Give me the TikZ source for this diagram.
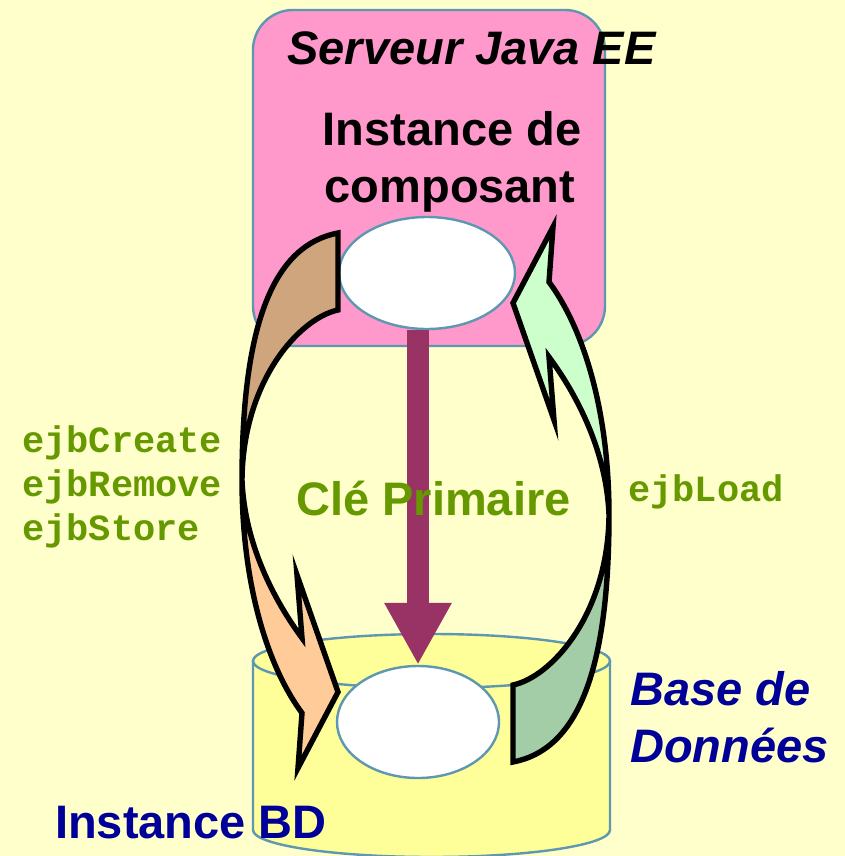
\documentclass[tikz,border=0pt]{standalone}
\usepackage{fontspec}
\setmainfont{Liberation Sans}
\setmonofont{Liberation Mono}
\usetikzlibrary{shapes.geometric,arrows.meta}

\definecolor{bgyellow}{HTML}{FFFFCC}
\definecolor{serverpink}{HTML}{FF99CC}
\definecolor{edgeblue}{HTML}{5E97B0}
\definecolor{dbyellow}{HTML}{FFFF99}
\definecolor{keypurple}{HTML}{993366}
\definecolor{labelgreen}{HTML}{669900}
\definecolor{dbblue}{HTML}{000099}
\definecolor{tanback}{HTML}{CFA57D}
\definecolor{peachfront}{HTML}{FFCC99}
\definecolor{mintfront}{HTML}{CCFFCC}
\definecolor{sageback}{HTML}{A3CDA6}

% Curved block arrow: tail at the top right, bulging left, head at the bottom.
% #1 = colour of the tail half, #2 = colour of the head half.
\newcommand\bendarrow[2]{%
  \fill[#1] (338,233) .. controls (275,245) and (242,320) .. (242,480)
     .. controls (243,380) and (300,318) .. (338,310) -- cycle;
  \fill[#2] (242,480) .. controls (242,590) and (270,670) .. (302,713)
     -- (298,768) -- (338,692) -- (297,575) -- (302,638)
     .. controls (285,615) and (245,555) .. (242,480) -- cycle;
  \draw[bendline] (338,233) .. controls (275,245) and (242,320) .. (242,480)
     .. controls (242,590) and (270,670) .. (302,713)
     -- (298,768) -- (338,692) -- (297,575) -- (302,638)
     .. controls (285,615) and (245,555) .. (242,480)
     .. controls (243,380) and (300,318) .. (338,310) -- cycle;
}

\tikzset{
  bendline/.style={draw=black, line width=5.4pt, line join=miter},
  blueedge/.style={draw=edgeblue, line width=2.4pt},
  hole/.style={ellipse, blueedge, fill=white, inner sep=0pt},
  bigtext/.style={inner sep=0pt, anchor=base, font=\fontsize{47}{56}\selectfont\bfseries},
  codetext/.style={inner sep=0pt, anchor=base west, text=labelgreen,
    font=\fontsize{37}{44.5}\selectfont\ttfamily\bfseries},
  keyarrow/.style={draw=keypurple, line width=22pt,
    -{Triangle[length=62pt,width=63pt]}},
}

\begin{document}
\begin{tikzpicture}[x=1pt, y=-1pt]
  \useasboundingbox (0,0) rectangle (845,856);
  \fill[bgyellow] (0,0) rectangle (845,856);

  % application server
  \node[blueedge, fill=serverpink, rounded corners=40pt, minimum width=352pt,
        minimum height=336pt, inner sep=0pt] (server) at (429,178) {};

  % database cylinder
  \fill[dbyellow] (253,661) -- (253,830)
     arc[start angle=180, end angle=360, x radius=178.5pt, y radius=27pt]
     -- (610,661)
     arc[start angle=0, end angle=180, x radius=178.5pt, y radius=27pt] -- cycle;
  \draw[blueedge] (253,661) -- (253,830)
     arc[start angle=180, end angle=360, x radius=178.5pt, y radius=27pt]
     -- (610,661);
  \draw[blueedge] (431.5,661) ellipse[x radius=178.5pt, y radius=27pt];

  % component instance and database row
  \node[hole, minimum width=176pt, minimum height=112pt] (topell) at (427,273) {};
  \node[hole, minimum width=162pt, minimum height=112pt] (botell) at (418,722) {};

  % primary key
  \draw[keyarrow] (topell.south -| botell.north) -- (botell.north);

  % ejbCreate / ejbRemove / ejbStore
  \begin{scope}
    \bendarrow{tanback}{peachfront}
  \end{scope}
  % ejbLoad
  \begin{scope}[rotate around={180:(425.5,497.5)}]
    \bendarrow{sageback}{mintfront}
  \end{scope}

  % labels
  \node[bigtext, font=\fontsize{47}{56}\selectfont\bfseries\itshape] (srvlabel)
        at (471.5,65) {Serveur Java EE};
  \node[bigtext] (inst1) at (452,146) {Instance de};
  \node[bigtext] (inst2) at (450,202) {composant};
  \node[bigtext, text=labelgreen] (pk) at (433.5,515) {Clé Primaire};
  \node[bigtext, anchor=base west, text=dbblue,
        font=\fontsize{47}{56}\selectfont\bfseries\itshape] (db1) at (630,705) {Base de};
  \node[bigtext, anchor=base west, text=dbblue,
        font=\fontsize{47}{56}\selectfont\bfseries\itshape] (db2) at (630,762) {Données};
  \node[bigtext, anchor=base west, text=dbblue] (bd) at (55,838) {Instance BD};

  \node[codetext] (create) at (22,452) {ejbCreate};
  \node[codetext] (remove) at (22,496) {ejbRemove};
  \node[codetext] (store) at (22,540) {ejbStore};
  \node[codetext] (load) at (628,501) {ejbLoad};
\end{tikzpicture}
\end{document}
